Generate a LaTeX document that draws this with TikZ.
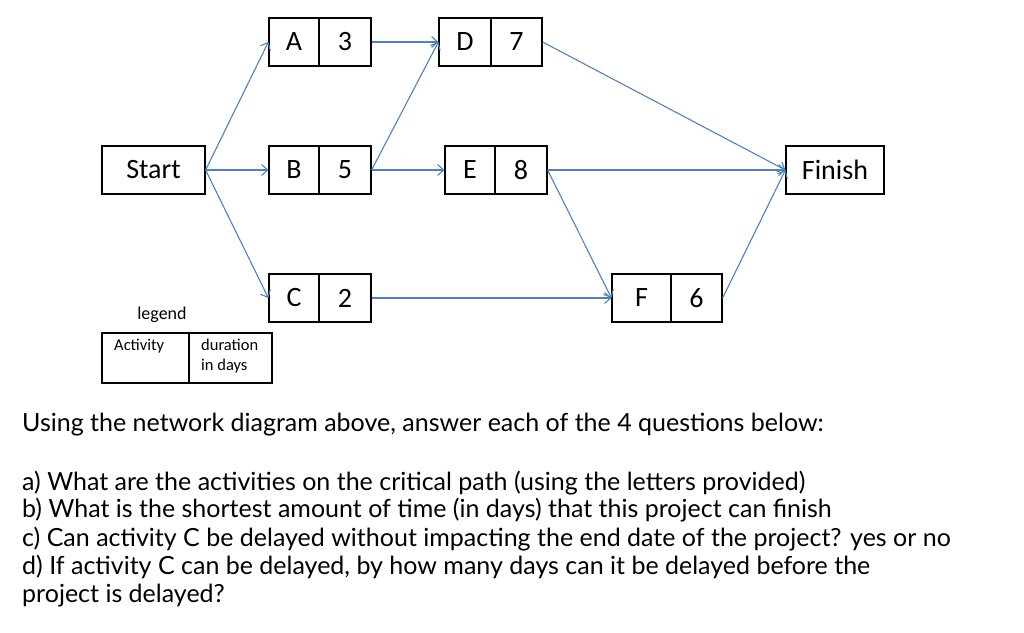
\documentclass[tikz,border=0pt]{standalone}
\usepackage{fontspec}
\setmainfont{Carlito}
\newfontfamily\qfont{Lato}
\usetikzlibrary{arrows.meta}
\definecolor{arr}{RGB}{79,129,189}
\tikzset{
 cell/.style={draw=black,line width=1.2pt,minimum height=48pt,inner sep=0pt,font=\fontsize{28}{30}\selectfont},
 conn/.style={draw=arr,line width=1.1pt,-{Straight Barb[length=6pt,width=11pt]}},
 qtext/.style={anchor=west,inner sep=0pt,font=\qfont\fontsize{25}{28}\selectfont}
}
\begin{document}
\begin{tikzpicture}[x=1pt,y=-1pt]
\useasboundingbox (0,0) rectangle (1024,632);
\newcommand\pair[7]{% name, x1, xmid, x2, yc, letter, number
 \node[cell,minimum width=#3-#2] (#1l) at ({(#2+#3)/2},#5) {#6};
 \node[cell,minimum width=#4-#3] (#1r) at ({(#3+#4)/2},#5) {#7};}
\pair{A}{269}{319}{371}{42}{A}{3}
\pair{D}{439}{491}{542}{42}{D}{7}
\pair{B}{269}{319}{371}{170}{B}{5}
\pair{E}{445}{495}{547}{170}{E}{8}
\pair{C}{269}{319}{371}{298}{C}{2}
\pair{F}{612}{671}{722}{298}{F}{6}
\node[cell,minimum width=103pt] (S) at (153.5,170) {Start};
\node[cell,minimum width=98pt] (Fin) at (835,170) {Finish};
\draw[conn] (S.east) -- (Al.west);
\draw[conn] (S.east) -- (Bl.west);
\draw[conn] (S.east) -- (Cl.west);
\draw[conn] (Ar.east) -- (Dl.west);
\draw[conn] (Br.east) -- (Dl.west);
\draw[conn] (Br.east) -- (El.west);
\draw[conn] (Dr.east) -- (Fin.west);
\draw[conn] (Er.east) -- (Fin.west);
\draw[conn] (Er.east) -- (Fl.west);
\draw[conn] (Cr.east) -- (Fl.west);
\draw[conn] (Fr.east) -- (Fin.west);
\node[font=\fontsize{18}{20}\selectfont] (lg) at (162,315) {legend};
\node[draw,line width=1.2pt,minimum width=87pt,minimum height=50pt,inner sep=0pt] (la) at (145.5,358) {};
\node[draw,line width=1.2pt,minimum width=83pt,minimum height=50pt,inner sep=0pt] (ld) at (230.5,358) {};
\node[font=\fontsize{16.5}{20}\selectfont,anchor=north west,inner sep=0pt] (lat) at (114,339) {Activity};
\node[font=\fontsize{16.5}{20}\selectfont,anchor=north west,inner sep=0pt,align=left] (ldt) at (201,339) {duration\\in days};
\node[qtext] (q0) at (22,425) {Using the network diagram above, answer each of the 4 questions below:};
\node[qtext] (q1) at (22,483) {a) What are the activities on the critical path (using the letters provided)};
\node[qtext] (q2) at (22,510) {b) What is the shortest amount of time (in days) that this project can finish};
\node[qtext] (q3) at (22,539) {c) Can activity C be delayed without impacting the end date of the project? yes or no};
\node[qtext] (q4) at (22,567) {d) If activity C can be delayed, by how many days can it be delayed before the};
\node[qtext] (q5) at (22,596) {project is delayed?};
\end{tikzpicture}
\end{document}
